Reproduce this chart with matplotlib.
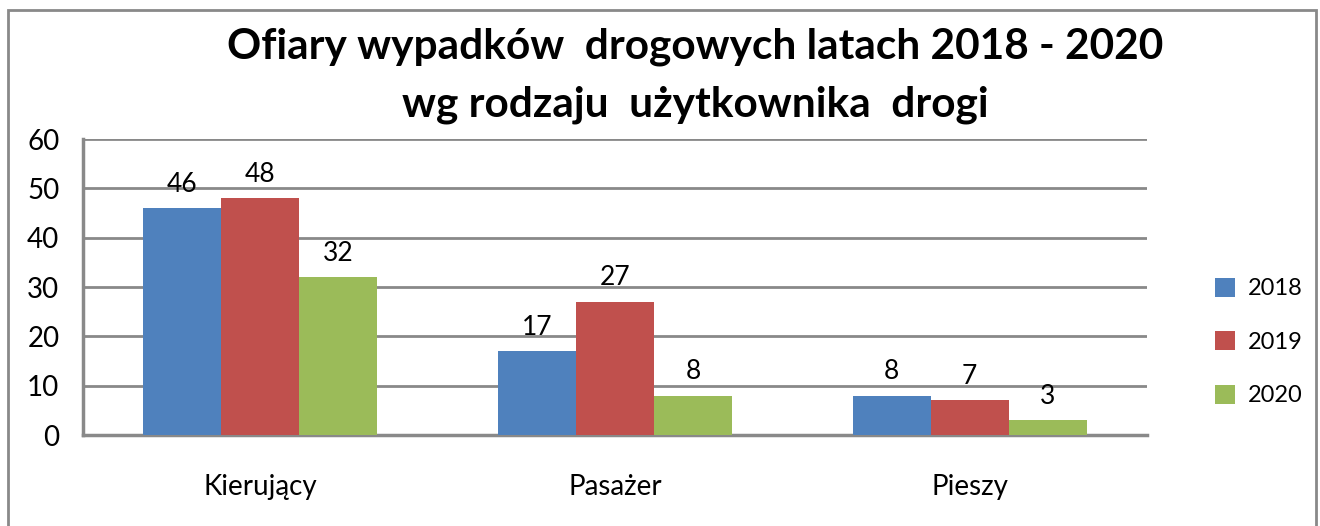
import numpy as np
import matplotlib.pyplot as plt
from matplotlib.patches import Rectangle

categories = ["Kierujący", "Pasażer", "Pieszy"]
years = ["2018", "2019", "2020"]
v2018 = [46, 17, 8]
v2019 = [48, 27, 7]
v2020 = [32, 8, 3]
colors = ["#4f81bd", "#c0504d", "#9bbb59"]

plt.rcParams['font.family'] = ['Lato', 'DejaVu Sans']

fig = plt.figure(figsize=(13.2, 5.26), dpi=100)
W, H = 1320, 526
ax = fig.add_axes([83 / W, 1 - 435 / H, (1147 - 83) / W, (435 - 139) / H])

x = np.arange(len(categories))
w = 0.22
for i, (vals, yr, c) in enumerate(zip([v2018, v2019, v2020], years, colors)):
    bars = ax.bar(x + (i - 1) * w, vals, w, color=c, label=yr, zorder=3)
    for b, v in zip(bars, vals):
        ax.text(b.get_x() + b.get_width() / 2, v + 2.3, str(v), ha='center',
                va='bottom', fontsize=19)

ax.set_xlim(-0.5, 2.5)
ax.set_ylim(0, 60)
ax.set_yticks(range(0, 61, 10))
ax.set_xticks(x)
ax.set_xticklabels(categories)
ax.tick_params(axis='y', length=0, labelsize=20, pad=17)
ax.tick_params(axis='x', length=0, labelsize=20, pad=28)
ax.grid(axis='y', color='#898989', linewidth=2, zorder=0)
for s in ['top', 'right']:
    ax.spines[s].set_visible(False)
for s in ['left', 'bottom']:
    ax.spines[s].set_color('#898989')
    ax.spines[s].set_linewidth(2.5)

fig.legend(loc='center left', bbox_to_anchor=(1194 / W, 1 - 342 / H), frameon=False,
           fontsize=17, handlelength=0.85, handleheight=0.85, labelspacing=1.35,
           handletextpad=0.55)

fig.text(0.5 * (228 + 1163) / W, 1 - 47 / H, "Ofiary wypadków  drogowych latach 2018 - 2020",
         ha='center', va='center', fontsize=30.5, fontweight='bold')
fig.text(0.5 * (228 + 1163) / W, 1 - 105 / H, "wg rodzaju  użytkownika  drogi",
         ha='center', va='center', fontsize=30.5, fontweight='bold')

fig.add_artist(Rectangle((8 / W, -0.01), (1316 - 8) / W, 1 - 10 / H + 0.01,
                         transform=fig.transFigure, fill=False,
                         edgecolor='#898989', linewidth=2))

fig.savefig("out.png", dpi=100)
